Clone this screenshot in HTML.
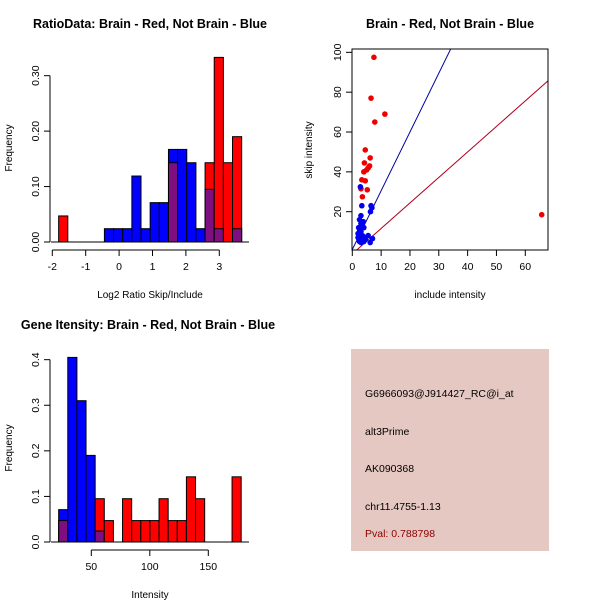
<!DOCTYPE html>
<html><head><meta charset="utf-8"><style>
body{margin:0;background:#fff}
svg{display:block;font-family:"Liberation Sans",sans-serif}
</style></head><body>
<svg id="c" width="600" height="600" xmlns="http://www.w3.org/2000/svg">
<rect width="600" height="600" fill="#fff"/>
<text x="150" y="28" font-size="12.5" font-weight="bold" text-anchor="middle">RatioData: Brain - Red, Not Brain - Blue</text>
<text x="450" y="28" font-size="12.5" font-weight="bold" text-anchor="middle">Brain - Red, Not Brain - Blue</text>
<text x="148" y="329" font-size="12.5" font-weight="bold" text-anchor="middle">Gene Itensity: Brain - Red, Not Brain - Blue</text>
<text x="150" y="298" font-size="10" text-anchor="middle">Log2 Ratio Skip/Include</text>
<text x="12" y="148" font-size="10" text-anchor="middle" transform="rotate(-90 12 148)">Frequency</text>
<text x="450" y="298" font-size="10" text-anchor="middle">include intensity</text>
<text x="312" y="150" font-size="10" text-anchor="middle" transform="rotate(-90 312 150)">skip intensity</text>
<text x="150" y="598" font-size="10" text-anchor="middle">Intensity</text>
<text x="12" y="448" font-size="10" text-anchor="middle" transform="rotate(-90 12 448)">Frequency</text>
<g>
<rect x="351" y="349" width="198" height="202" fill="#e6c8c2"/>
<text x="365" y="397" font-size="10.5">G6966093@J914427_RC@i_at</text>
<text x="365" y="435" font-size="10.5">alt3Prime</text>
<text x="365" y="472" font-size="10.5">AK090368</text>
<text x="365" y="510" font-size="10.5">chr11.4755-1.13</text>
<text x="365" y="537" font-size="10.5" fill="#8b0000">Pval: 0.788798</text>
</g>
</svg>
<script>
// ---- Ratio histogram data ----
const ratioBinStart = -1.81;
const ratioBinWidth = 0.274;
const ratioRed  = [0.047,0,0,0,0,0,0,0,0,0,0,0,0.143,0,0,0,0.143,0.333,0.143,0.190];
const ratioBlue = [0,0,0,0,0,0.024,0.024,0.024,0.119,0.024,0.071,0.071,0.167,0.167,0.143,0.024,0.095,0.024,0,0.024];
const ratioXTicks = [-2,-1,0,1,2,3];
const ratioYTicks = [0,0.10,0.20,0.30];
const ratioYLabels = ["0.00","0.10","0.20","0.30"];
// ---- Intensity histogram data ----
const intBinStart = 22.1;
const intBinWidth = 7.8;
const intRed  = [0.047,0,0,0,0.095,0.047,0,0.095,0.047,0.047,0.047,0.095,0.047,0.047,0.143,0.095,0,0,0,0.143];
const intBlue = [0.071,0.405,0.310,0.190,0.024,0,0,0,0,0,0,0,0,0,0,0,0,0,0,0];
const intXTicks = [50,100,150];
const intYTicks = [0,0.1,0.2,0.3,0.4];
const intYLabels = ["0.0","0.1","0.2","0.3","0.4"];
// ---- Scatter data ----
const redX = [7.5,6.5,7.8,11.3,4.5,6.2,6,4.2,5.5,5,4,3.3,4.5,5.2,3.5,3,65.7];
const redY = [97.5,77,65,69,51,47,43,44.5,42,41,40,36,35.5,31,27.5,31.5,18.5];
const blueX = [2.8,3.3,6.5,6.8,6.3,3,2.5,3,3.5,4,2.5,3,2,2.5,3.5,4.5,5.5,2,3,4,6.2,7,2.5,3,4.5,2.2,3.8];
const blueY = [32.5,23,23,22,20,18,16,14,13,12,11,10,9,8,8,7,8,7,6,5,4.5,6.5,5,4.5,6,12,15];
const scatterXTicks = [0,10,20,30,40,50,60];
const scatterYTicks = [20,40,60,80,100];
const blueLine = [1.0, 2.95];   // intercept, slope
const redLine = [-1.2, 1.28];

const svg = document.getElementById('c');
const NS = 'http://www.w3.org/2000/svg';
function mk(tag, attrs, parent){const e=document.createElementNS(NS,tag);for(const k in attrs)e.setAttribute(k,attrs[k]);(parent||svg).appendChild(e);return e;}
function txt(x,y,s,attrs){const e=mk('text',Object.assign({x:x,y:y,'font-size':10.5,'text-anchor':'middle'},attrs||{}));e.textContent=s;return e;}

function histogram(name, start, width, red, blue, xs, ys, xTicks, yTicks, yLabels, baseY, axisY, baseX0, baseX1){
  const g = mk('g',{});
  
  
  for(let i=0;i<red.length;i++){
    const x0=xs(start+i*width), x1=xs(start+(i+1)*width);
    const r=red[i], b=blue[i], m=Math.min(r,b), M=Math.max(r,b);
    if(M<=0) continue;
    const col = r>b ? '#ff0000' : '#0000ff';
    const top = mk('rect',{x:x0,y:ys(M),width:x1-x0,height:ys(0)-ys(M),fill:col,stroke:'#000','stroke-width':1},g);
    
    
    if(m>0){
      const ov = mk('rect',{x:x0,y:ys(m),width:x1-x0,height:ys(0)-ys(m),fill:'#7f0f80',stroke:'#000','stroke-width':1},g);
      
      
    }
  }
  mk('line',{x1:baseX0,x2:baseX1,y1:baseY,y2:baseY,stroke:'#000'},g);
  mk('line',{x1:xs(xTicks[0]),x2:xs(xTicks[xTicks.length-1]),y1:axisY,y2:axisY,stroke:'#000'},g);
  xTicks.forEach(t=>{mk('line',{x1:xs(t),x2:xs(t),y1:axisY,y2:axisY+6,stroke:'#000'},g);
    const l=txt(xs(t),axisY+20,String(t));
    
    });
  const ax=baseX0-1;
  mk('line',{x1:ax,x2:ax,y1:ys(yTicks[0]),y2:ys(yTicks[yTicks.length-1]),stroke:'#000'},g);
  yTicks.forEach((t,i)=>{mk('line',{x1:ax,x2:ax-6,y1:ys(t),y2:ys(t),stroke:'#000'},g);
    const X=ax-11;const l=txt(X,ys(t),yLabels[i],{transform:'rotate(-90 '+X+' '+ys(t)+')'});
    
    });
}

const rxs = v => 52.3 + (v+2)*33.4;
const rys = v => 242 - v*554.4;
histogram('ratio-histogram', ratioBinStart, ratioBinWidth, ratioRed, ratioBlue, rxs, rys, ratioXTicks, ratioYTicks, ratioYLabels, 242, 250, 51, 249);

const ixs = v => 91.3 + (v-50)*1.17;
const iys = v => 542 - v*455.8;
histogram('intensity-histogram', intBinStart, intBinWidth, intRed, intBlue, ixs, iys, intXTicks, intYTicks, intYLabels, 542, 550, 51, 249);

const sxs = v => 352.3 + v*2.883;
const sys = v => 211.7 - (v-20)*1.992;
const sg = mk('g',{});


mk('defs',{},sg).innerHTML='<clipPath id="cp"><rect x="352" y="49" width="196" height="201"/></clipPath>';
const lg = mk('g',{'clip-path':'url(#cp)'},sg);
const bl = mk('line',{x1:sxs(-5),y1:sys(blueLine[0]-5*blueLine[1]),x2:sxs(70),y2:sys(blueLine[0]+70*blueLine[1]),stroke:'#0000a0'},lg);


const rl = mk('line',{x1:sxs(-5),y1:sys(redLine[0]-5*redLine[1]),x2:sxs(70),y2:sys(redLine[0]+70*redLine[1]),stroke:'#b00020'},lg);


redX.forEach((x,i)=>{const c=mk('circle',{cx:sxs(x),cy:sys(redY[i]),r:2.8,fill:'#ee0000'},sg);
  
  });
blueX.forEach((x,i)=>{const c=mk('circle',{cx:sxs(x),cy:sys(blueY[i]),r:2.8,fill:'#0000ee'},sg);
  
  });
mk('rect',{x:352,y:49,width:196,height:201,fill:'none',stroke:'#000'},sg);
scatterXTicks.forEach(t=>{mk('line',{x1:sxs(t),x2:sxs(t),y1:250,y2:256,stroke:'#000'},sg);
  const l=txt(sxs(t),270,String(t));
  
  });
scatterYTicks.forEach(t=>{mk('line',{x1:352,x2:346,y1:sys(t),y2:sys(t),stroke:'#000'},sg);
  const X=341;const l=txt(X,sys(t),String(t),{transform:'rotate(-90 '+X+' '+sys(t)+')'});
  
  });
</script>
</body></html>
